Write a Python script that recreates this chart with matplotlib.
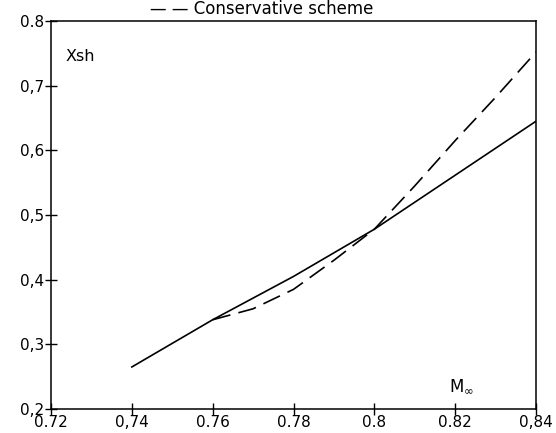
import matplotlib
matplotlib.use("Agg")
import matplotlib.pyplot as plt

# Data
x_solid = [0.74, 0.76, 0.78, 0.80, 0.84]
y_solid = [0.265, 0.338, 0.405, 0.478, 0.645]

x_dashed = [0.76, 0.77, 0.78, 0.79, 0.80, 0.81, 0.82, 0.83, 0.84]
y_dashed = [0.338, 0.355, 0.385, 0.430, 0.478, 0.545, 0.615, 0.682, 0.752]

x_ticks = [0.72, 0.74, 0.76, 0.78, 0.80, 0.82, 0.84]
x_tick_labels = ["0.72", "0,74", "0.76", "0.78", "0.8", "0.82", "0,84"]
y_ticks = [0.2, 0.3, 0.4, 0.5, 0.6, 0.7, 0.8]
y_tick_labels = ["0,2", "0,3", "0,4", "0,5", "0,6", "0,7", "0.8"]

plt.rcParams["mathtext.fontset"] = "dejavusans"

fig = plt.figure(figsize=(5.56, 4.33), dpi=100)
ax = fig.add_axes([51/556, 24/433, (536-51)/556, (409-21)/433])

ax.plot(x_solid, y_solid, color="black", lw=1.2)
ax.plot(x_dashed, y_dashed, color="black", lw=1.2, dashes=(11, 5))

ax.set_xlim(0.72, 0.84)
ax.set_ylim(0.2, 0.8)
ax.set_xticks(x_ticks)
ax.set_xticklabels(x_tick_labels)
ax.set_yticks(y_ticks)
ax.set_yticklabels(y_tick_labels)
ax.tick_params(direction="inout", length=8, width=1, labelsize=11, pad=0)
ax.tick_params(axis="y", pad=1)
for lab in ax.get_yticklabels():
    lab.set_verticalalignment("center_baseline")
for s in ax.spines.values():
    s.set_linewidth(1.1)

ax.text(0.7235, 0.745, "Xsh", fontsize=11.5, ha="left", va="center")
ax.text(0.8185, 0.236, r"$\mathrm{M}_{\infty}$", fontsize=12, ha="left", va="center")

fig.text(150/556, 1 - 14/433, "— — Conservative scheme", fontsize=12,
         ha="left", va="baseline")

fig.savefig("out.png", dpi=100)
